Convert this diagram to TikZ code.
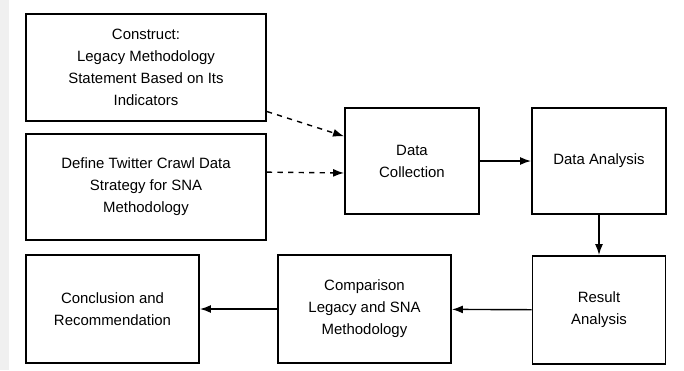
\documentclass[tikz,border=0pt]{standalone}
\usepackage{fontspec}
\setmainfont{Liberation Sans}
\usepackage{tikz}
\usetikzlibrary{arrows.meta}

\tikzset{
  stepbox/.style={draw,line width=1.1pt,align=center,inner sep=2pt,
    font=\fontsize{8.5}{12.5}\selectfont},
  flow/.style={-{Latex[length=2.2mm,width=1.6mm]},line width=0.8pt},
}

\begin{document}
\begin{tikzpicture}[x=0.02cm,y=-0.02cm]
% page and left strip
\fill[white] (0,0) rectangle (684,370);
\fill[gray!12] (0,0) rectangle (9,370);

% input boxes
\node[stepbox,minimum width=4.8cm,minimum height=2.14cm] (constr) at (146,67.5)
  {Construct:\\Legacy Methodology\\Statement Based on Its\\Indicators};
\node[stepbox,minimum width=4.8cm,minimum height=2.12cm] (define) at (146,187)
  {Define Twitter Crawl Data\\Strategy for SNA\\Methodology};

% top row
\node[stepbox,minimum width=2.68cm,minimum height=2.12cm] (collect) at (412,161)
  {Data\\Collection};
\node[stepbox,minimum width=2.68cm,minimum height=2.12cm] (analysis) at (599,161)
  {Data Analysis};

% bottom row
\node[stepbox,minimum width=2.66cm,minimum height=2.16cm] (result) at (599,310)
  {Result\\Analysis};
\node[stepbox,minimum width=3.46cm,minimum height=2.16cm] (compare) at (364.5,309)
  {Comparison\\Legacy and SNA\\Methodology};
\node[stepbox,minimum width=3.46cm,minimum height=2.16cm] (concl) at (112.5,309)
  {Conclusion and\\Recommendation};

% connectors
\draw[flow,dashed] (constr.-20) -- (collect.160);
\draw[flow,dashed] (define.7) -- (collect.190);
\draw[flow] (collect) -- (analysis);
\draw[flow] (analysis) -- (result);
\draw[flow] (result) -- (compare);
\draw[flow] (compare) -- (concl);
\end{tikzpicture}
\end{document}
